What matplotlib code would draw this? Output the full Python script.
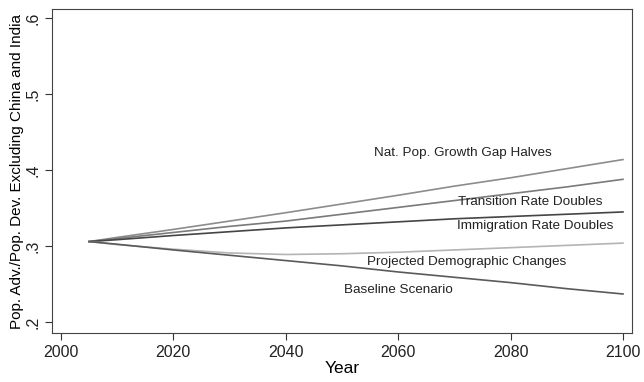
import matplotlib
matplotlib.use("Agg")
import matplotlib.pyplot as plt

plt.rcParams['font.family'] = ['Liberation Sans', 'DejaVu Sans']

years = [2005, 2010, 2020, 2030, 2040, 2050, 2060, 2070, 2080, 2090, 2100]
nat_pop = [0.306, 0.3115, 0.322, 0.333, 0.344, 0.3555, 0.367, 0.379, 0.390, 0.402, 0.414]
transition = [0.306, 0.310, 0.318, 0.326, 0.333, 0.342, 0.351, 0.360, 0.369, 0.378, 0.388]
immigration = [0.306, 0.3085, 0.314, 0.319, 0.324, 0.328, 0.332, 0.336, 0.339, 0.342, 0.345]
projected = [0.306, 0.302, 0.296, 0.291, 0.289, 0.290, 0.292, 0.295, 0.298, 0.301, 0.304]
baseline = [0.306, 0.3025, 0.295, 0.288, 0.281, 0.274, 0.266, 0.259, 0.252, 0.244, 0.237]

series = [
    (nat_pop, "#8c8c8c", "Nat. Pop. Growth Gap Halves", 2071.6, 0.4228),
    (transition, "#7a7a7a", "Transition Rate Doubles", 2083.5, 0.358),
    (immigration, "#454545", "Immigration Rate Doubles", 2084.3, 0.326),
    (projected, "#b4b4b4", "Projected Demographic Changes", 2072.2, 0.2793),
    (baseline, "#5a5a5a", "Baseline Scenario", 2060.0, 0.242),
]

fig = plt.figure(figsize=(6.44, 3.82), dpi=100)
ax = fig.add_axes([0.0807, 0.128, 0.9006, 0.848])

for vals, col, lab, tx, ty in series:
    ax.plot(years, vals, color=col, lw=1.2)
    ax.text(tx, ty, lab, ha="center", va="center", fontsize=9.7, color="#222222")

ax.set_xlim(1998.4, 2101.6)
ax.set_ylim(0.1855, 0.612)
ax.set_xticks([2000, 2020, 2040, 2060, 2080, 2100])
ax.set_yticks([0.2, 0.3, 0.4, 0.5, 0.6])
ax.set_yticklabels([".2", ".3", ".4", ".5", ".6"], rotation=90, va="center")
ax.tick_params(direction="out", length=5, labelsize=11.5, color="#333333", labelcolor="#222222")
for s in ax.spines.values():
    s.set_color("#444444")
ax.set_xlabel("Year", fontsize=12.5, labelpad=1)
ax.set_ylabel("Pop. Adv./Pop. Dev. Excluding China and India", fontsize=11, labelpad=1)

fig.savefig("out.png", dpi=100)
